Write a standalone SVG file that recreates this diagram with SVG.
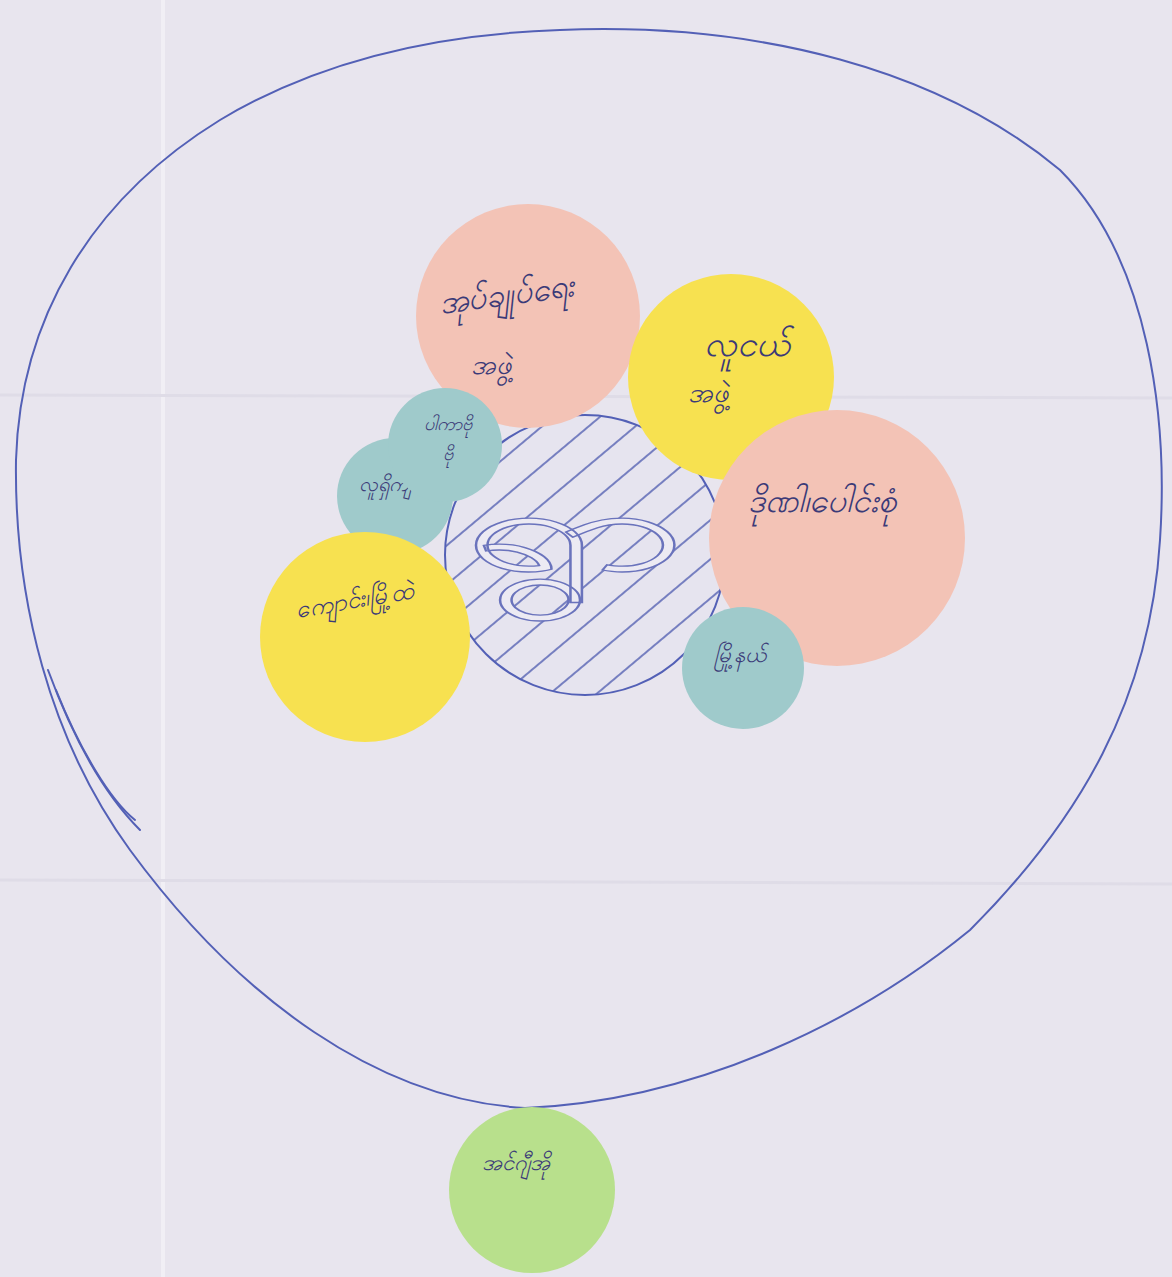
<svg xmlns="http://www.w3.org/2000/svg" width="1172" height="1277" viewBox="0 0 1172 1277">
<defs>
<style>
.lbl{font-family:"Noto Sans","DejaVu Sans",sans-serif;fill:#3b3a78;font-style:italic}
.pink{fill:#f3c3b6}
.yellow{fill:#f7e150}
.teal{fill:#9fcacb}
.green{fill:#b8e08c}
.ink{fill:none;stroke:#5360b6;stroke-width:2;stroke-linecap:round;stroke-linejoin:round}
</style>
<pattern id="hatch" patternUnits="userSpaceOnUse" width="30" height="30" patternTransform="rotate(-40)">
<rect width="30" height="30" fill="#e6e4ef"/>
<line x1="0" y1="15" x2="30" y2="15" stroke="#5a66b4" stroke-width="1.6"/>
</pattern>
</defs>
<rect width="1172" height="1277" fill="#e8e5ee"/>
<line x1="163" y1="0" x2="163" y2="1277" stroke="#f1eff5" stroke-width="4"/>
<line x1="0" y1="395" x2="1172" y2="398" stroke="#dfdce7" stroke-width="3"/>
<line x1="0" y1="880" x2="1172" y2="884" stroke="#dfdce7" stroke-width="3"/>

<g id="connectors">
<path class="ink" d="M560,30 C760,22 940,70 1060,170 C1150,260 1168,420 1160,540 C1150,700 1080,820 970,930 C860,1020 700,1100 525,1108 C380,1100 240,1000 130,850 C50,740 14,600 16,460 C20,320 90,200 220,120 C320,60 440,34 560,30 Z"/>
<path class="ink" d="M48,670 C70,730 100,790 140,830"/>
<path class="ink" d="M56,690 C80,750 110,800 135,820"/>
</g>

<g id="node-village">
<circle cx="585" cy="555" r="140" fill="url(#hatch)" stroke="#5360b6" stroke-width="2"/>
<text x="0" y="570" transform="translate(575,0) scale(2,1)" text-anchor="middle" font-family="Noto Sans, DejaVu Sans, sans-serif" font-size="115" fill="#eceaf3" stroke="#6a73bc" stroke-width="2" vector-effect="non-scaling-stroke">ရွာ</text>
</g>

<g id="node-admin">
<circle class="pink" cx="528" cy="316" r="112"/>
<text class="lbl" x="508" y="305" text-anchor="middle" font-size="32" transform="rotate(-8 508 305)">အုပ်ချုပ်ရေး</text>
<text class="lbl" x="491" y="374" text-anchor="middle" font-size="27">အဖွဲ့</text>
</g>

<g id="node-youth">
<circle class="yellow" cx="731" cy="377" r="103"/>
<text class="lbl" x="747" y="356" text-anchor="middle" font-size="35">လူငယ်</text>
<text class="lbl" x="708" y="402" text-anchor="middle" font-size="27">အဖွဲ့</text>
</g>

<g id="node-donors">
<circle class="pink" cx="837" cy="538" r="128"/>
<text class="lbl" x="822" y="512" text-anchor="middle" font-size="33">ဒိုဏါ၊ပေါင်းစုံ</text>
</g>

<g id="node-teal2">
<circle class="teal" cx="395" cy="496" r="58"/>
<text class="lbl" x="385" y="491" text-anchor="middle" font-size="20">လူရှိကျ</text>
</g>

<g id="node-teal1">
<circle class="teal" cx="445" cy="445" r="57"/>
<text class="lbl" x="448" y="430" text-anchor="middle" font-size="18">ပါကာဗို</text>
<text class="lbl" x="448" y="460" text-anchor="middle" font-size="18">ဗို</text>
</g>

<g id="node-school">
<circle class="yellow" cx="365" cy="637" r="105"/>
<text class="lbl" x="356" y="608" text-anchor="middle" font-size="24" transform="rotate(-10 356 608)">ကျောင်း၊မြို့ထဲ</text>
</g>

<g id="node-township">
<circle class="teal" cx="743" cy="668" r="61"/>
<text class="lbl" x="740" y="662" text-anchor="middle" font-size="22">မြို့နယ်</text>
</g>

<g id="node-ngo">
<circle class="green" cx="532" cy="1190" r="83"/>
<text class="lbl" x="516" y="1170" text-anchor="middle" font-size="22">အင်ဂျီအို</text>
</g>
</svg>
